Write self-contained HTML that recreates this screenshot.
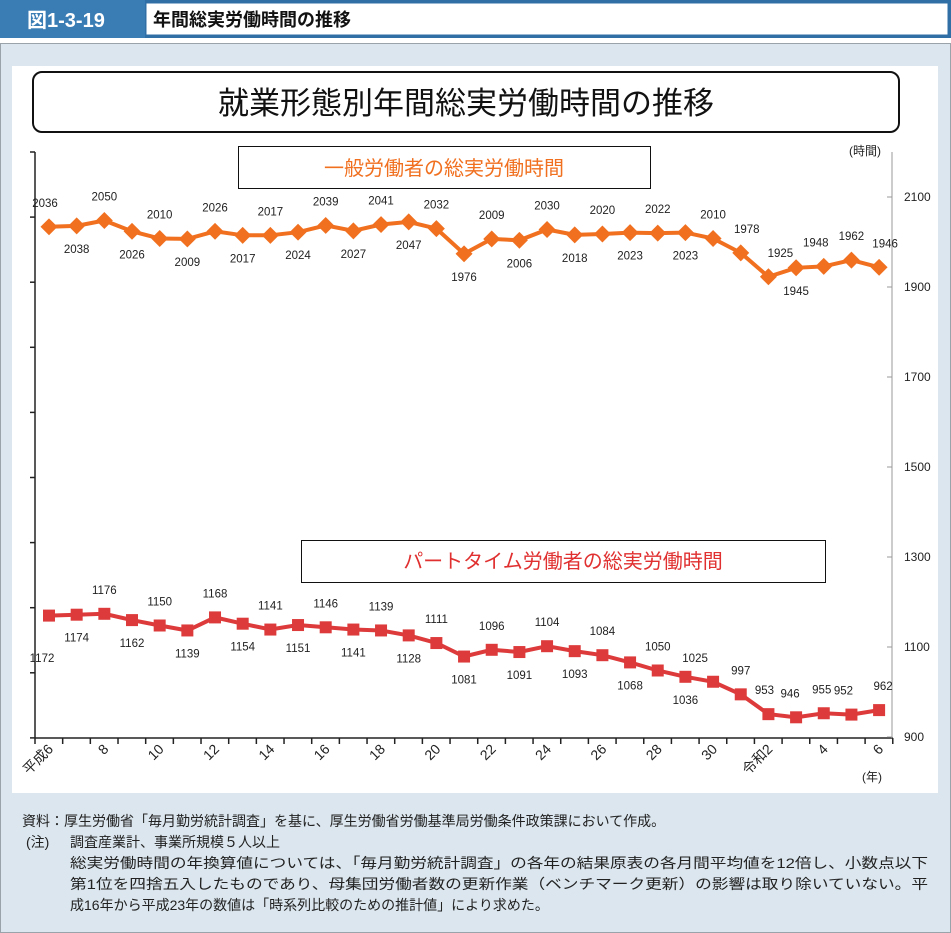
<!DOCTYPE html>
<html><head><meta charset="utf-8">
<style>
html,body{margin:0;padding:0;background:#fff;}
svg{display:block;}
text{font-family:"Liberation Sans","Noto Sans CJK JP",sans-serif;}
</style></head>
<body>
<svg id="s" width="951" height="933" viewBox="0 0 951 933" xmlns="http://www.w3.org/2000/svg">
<rect x="0" y="0" width="951" height="38" fill="#2f6fa6"/>
<rect x="0" y="0" width="145" height="38" fill="#3a7db5"/>
<text x="27" y="27" font-size="20" font-weight="bold" fill="#fff">図1-3-19</text>
<rect x="146" y="3" width="802" height="32" fill="#fff" stroke="#2f6fa6" stroke-width="1"/>
<text x="153" y="26" font-size="18" font-weight="bold" fill="#111">年間総実労働時間の推移</text>
<rect x="0.5" y="43.5" width="950" height="889" fill="#dbe6ee" stroke="#9aa3aa"/>
<rect x="12" y="66" width="926" height="727" fill="#fff"/>
<rect x="33" y="72" width="866" height="60" rx="9" fill="#fff" stroke="#111" stroke-width="2"/>
<text x="466" y="114" font-size="31" text-anchor="middle" fill="#111">就業形態別年間総実労働時間の推移</text>
<rect x="238.5" y="146.5" width="412" height="42" fill="#fff" stroke="#111"/>
<text x="444" y="175" font-size="20" text-anchor="middle" fill="#f07020">一般労働者の総実労働時間</text>
<rect x="301.5" y="540.5" width="524" height="42" fill="#fff" stroke="#111"/>
<text x="563" y="568" font-size="20" text-anchor="middle" fill="#e03030">パートタイム労働者の総実労働時間</text>
<text x="849" y="155" font-size="12" fill="#222">(時間)</text>
<text x="862" y="781" font-size="12" fill="#222">(年)</text>
<g id="g"></g>
<g font-size="14" fill="#222">
<text x="22" y="826">資料：厚生労働省「毎月勤労統計調査」を基に、厚生労働省労働基準局労働条件政策課において作成。</text>
<text x="26" y="847">(注)</text>
<text x="70" y="847">調査産業計、事業所規模５人以上</text>
<text x="70" y="868" textLength="858" lengthAdjust="spacingAndGlyphs">総実労働時間の年換算値については、「毎月勤労統計調査」の各年の結果原表の各月間平均値を12倍し、小数点以下</text>
<text x="70" y="889" textLength="858" lengthAdjust="spacingAndGlyphs">第1位を四捨五入したものであり、母集団労働者数の更新作業（ベンチマーク更新）の影響は取り除いていない。平</text>
<text x="70" y="910">成16年から平成23年の数値は「時系列比較のための推計値」により求めた。</text>
</g>
</svg>
<script>
var g=document.getElementById('g'),h='';
function Y(v){return 738-(v-900)*0.45;}
function X(i){return 49+i*27.67;}
h+='<line x1="35" y1="152" x2="35" y2="738" stroke="#222" stroke-width="1.5"/>';
for(var k=0;k<10;k++){var y=152+k*65.1;h+='<line x1="30" y1="'+y+'" x2="35" y2="'+y+'" stroke="#222" stroke-width="1.5"/>';}
h+='<line x1="35" y1="738" x2="893" y2="738" stroke="#222" stroke-width="1.5"/>';
for(k=0;k<=31;k++){var x=35+k*27.67;h+='<line x1="'+x+'" y1="738" x2="'+x+'" y2="744" stroke="#222" stroke-width="1.5"/>';}
h+='<line x1="892" y1="152" x2="892" y2="738" stroke="#999" stroke-width="1"/>';
var rl=[2100,1900,1700,1500,1300,1100,900];
for(k=0;k<7;k++){var y=197+k*90;h+='<line x1="887" y1="'+y+'" x2="892" y2="'+y+'" stroke="#999"/><text x="904" y="'+(y+4)+'" font-size="12" fill="#222">'+rl[k]+'</text>';}
var xl=['平成6','8','10','12','14','16','18','20','22','24','26','28','30','令和2','4','6'];
for(k=0;k<16;k++){var x=X(2*k)+5,y=750;h+='<text x="'+x+'" y="'+y+'" font-size="14" text-anchor="end" fill="#222" transform="rotate(-45 '+x+' '+y+')">'+xl[k]+'</text>';}
var o=[2036,2038,2050,2026,2010,2009,2026,2017,2017,2024,2039,2027,2041,2047,2032,1976,2009,2006,2030,2018,2020,2023,2022,2023,2010,1978,1925,1945,1948,1962,1946];
var r=[1172,1174,1176,1162,1150,1139,1168,1154,1141,1151,1146,1141,1139,1128,1111,1081,1096,1091,1104,1093,1084,1068,1050,1036,1025,997,953,946,955,952,962];
function series(d,c,mk,pos,off){
 var p='';for(var i=0;i<d.length;i++)p+=(i?'L':'M')+X(i).toFixed(1)+' '+Y(d[i]).toFixed(1);
 h+='<path d="'+p+'" fill="none" stroke="'+c+'" stroke-width="4"/>';
 for(i=0;i<d.length;i++){var x=X(i),y=Y(d[i]);
  if(mk=='d')h+='<rect x="'+(x-6)+'" y="'+(y-6)+'" width="12" height="12" fill="'+c+'" transform="rotate(45 '+x+' '+y+')"/>';
  else h+='<rect x="'+(x-6)+'" y="'+(y-6)+'" width="12" height="12" fill="'+c+'"/>';
  var ab=pos(i),lx=x+(off[i]||0),ly=ab?y-20:y+27;
  h+='<text x="'+lx+'" y="'+ly+'" font-size="11.5" text-anchor="middle" fill="#222">'+d[i]+'</text>';}
}
series(o,'#f07020','d',function(i){return i>=25?(i==27?false:true):i%2==0;},{0:-4,25:6,26:12,28:-8,30:6});
series(r,'#dd3b3b','s',function(i){return i>=24?true:i%2==0;},{0:-6,24:-18,25:0,26:-4,27:-6,28:-2,29:-8,30:4});
g.innerHTML=h;
var ts=g.querySelectorAll('text');
ts.forEach(function(t){if(t.textContent=='1172'){t.setAttribute('x','42');t.setAttribute('y','662');}});
</script>
</body></html>
